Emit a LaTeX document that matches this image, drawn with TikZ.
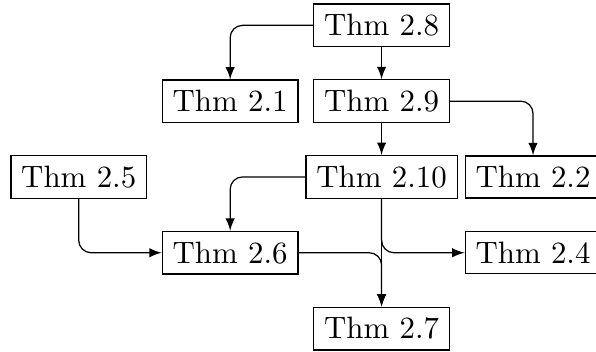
\documentclass[tikz,border=0pt]{standalone}
\usepackage{tikz}

\begin{document}
\begin{tikzpicture}[x=49pt, y=-24.53pt, thm/.style={draw, rectangle}, dep/.style={-latex, rounded corners}]
      \useasboundingbox (-0.520, -0.334) rectangle (3.416, 4.309);
      \node[thm] (t28) at (2, 0) {Thm 2.8};
      \node[thm] (t21) at (1, 1) {Thm 2.1};
      \node[thm] (t29) at (2, 1) {Thm 2.9};
      \node[thm] (t25) at (0, 2) {Thm 2.5};
      \node[thm] (t210) at (2, 2) {Thm 2.10};
      \node[thm] (t22) at (3, 2) {Thm 2.2};
      \node[thm] (t26) at (1, 3) {Thm 2.6};
      \node[thm] (t24) at (3, 3) {Thm 2.4};
      \node[thm] (t27) at (2, 4) {Thm 2.7};
      \draw[dep] (t28) -| (t21);
      \draw[dep] (t28) -- (t29);
      \draw[dep] (t29) -| (t22);
      \draw[dep] (t29) -- (t210);
      \draw[dep] (t210) -| (t26);
      \draw[dep] (t210) |- (t24);
      \draw[dep] (t210) -- (t27);
      \draw[dep] (t25) |- (t26);
      \draw[dep] (t26) -| (t27);
    \end{tikzpicture}
\end{document}
